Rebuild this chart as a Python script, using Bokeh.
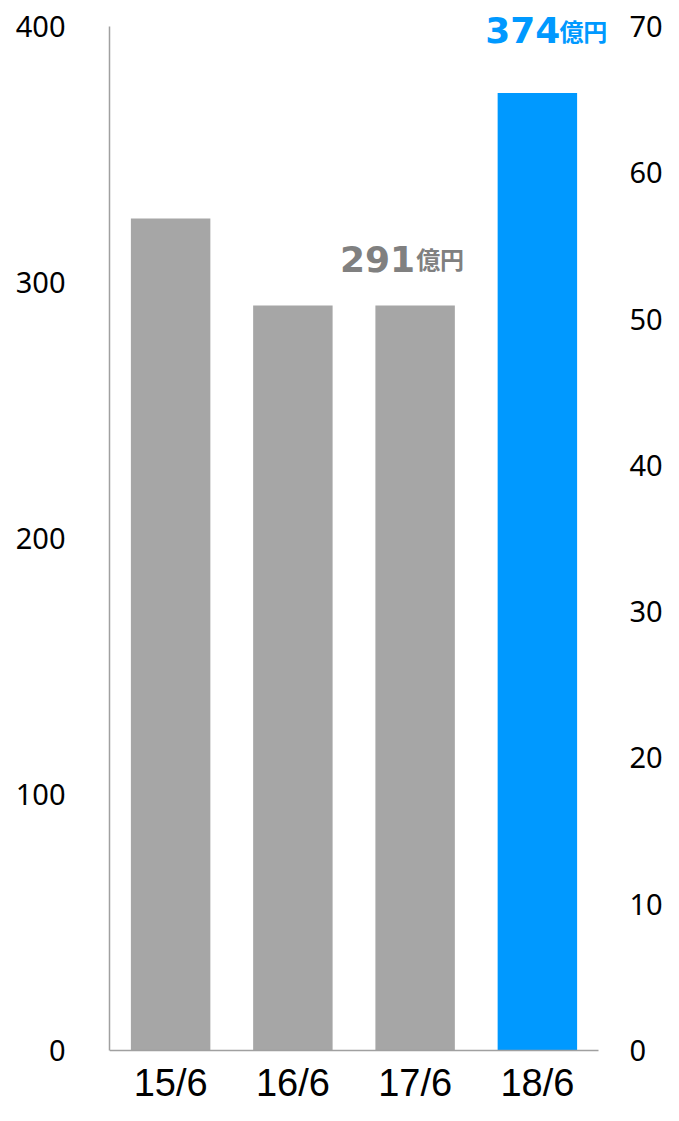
from bokeh.plotting import figure
from bokeh.models import Range1d, LinearAxis, FixedTicker, ColumnDataSource
from bokeh.core.properties import value
from bokeh.embed import file_html
from bokeh.resources import INLINE

# ---- data ----
categories = ["15/6", "16/6", "17/6", "18/6"]
sales = [325, 291, 291, 374]
bar_colors = ["#A6A6A6", "#A6A6A6", "#A6A6A6", "#0099FF"]
left_ticks = [0, 100, 200, 300, 400]
right_ticks = [0, 10, 20, 30, 40, 50, 60, 70]
callout_categories = ["17/6", "18/6"]
callout_values = [291, 374]
callout_numbers = ["291", "374"]
callout_unit = "億円"
callout_colors = ["#808080", "#0099FF"]
left_max = 400
right_max = 70

# ---- layout ----
px_per_cat = 122.25
px_per_unit = 2.56
border_left = 109
border_top = 12
frame_w = 503
frame_h = 1093
below_zero_px = 55          # frame space below the zero line (for x labels)
x_end = frame_w / px_per_cat
y_start = -below_zero_px / px_per_unit
y_end = (frame_h - below_zero_px) / px_per_unit
x_pos = [i + 0.5 for i in range(len(categories))]

p = figure(frame_width=frame_w, frame_height=frame_h,
           x_range=Range1d(0, x_end), y_range=Range1d(y_start, y_end),
           output_backend="svg", toolbar_location=None,
           min_border_left=border_left, min_border_right=0,
           min_border_top=border_top, min_border_bottom=0)
p.outline_line_color = None
p.grid.visible = False
p.background_fill_color = "white"
p.border_fill_color = "white"

axis_grey = "#A0A0A0"

# bottom axis, pinned to the zero line
xa = p.xaxis[0]
xa.fixed_location = 0
xa.ticker = FixedTicker(ticks=x_pos)
xa.major_label_overrides = {x: c for x, c in zip(x_pos, categories)}
xa.bounds = (0, len(categories))
xa.axis_line_color = axis_grey
xa.axis_line_width = 1.5
xa.major_tick_line_color = None
xa.minor_tick_line_color = None
xa.major_tick_out = 0
xa.major_tick_in = 0
xa.major_label_standoff = 11
xa.major_label_text_font = "Liberation Sans"
xa.major_label_text_font_size = "38px"
xa.major_label_text_color = "black"

# left axis
ya = p.yaxis[0]
ya.ticker = FixedTicker(ticks=left_ticks)
ya.bounds = (0, left_max)
ya.axis_line_color = axis_grey
ya.axis_line_width = 1.5
ya.major_tick_line_color = None
ya.minor_tick_line_color = None
ya.major_tick_out = 0
ya.major_tick_in = 0
ya.major_label_standoff = 44
ya.major_label_text_font = "Noto Sans"
ya.major_label_text_font_size = "29px"
ya.major_label_text_color = "black"

# right axis
scale = right_max / left_max
p.extra_y_ranges = {"right": Range1d(y_start * scale, y_end * scale)}
ra = LinearAxis(y_range_name="right", ticker=FixedTicker(ticks=right_ticks))
ra.axis_line_color = None
ra.major_tick_line_color = None
ra.minor_tick_line_color = None
ra.major_tick_out = 0
ra.major_tick_in = 0
ra.major_label_standoff = 17
ra.major_label_text_font = "Noto Sans"
ra.major_label_text_font_size = "29px"
ra.major_label_text_color = "black"
p.add_layout(ra, "right")

# bars
src = ColumnDataSource(dict(x=x_pos, top=sales, color=bar_colors))
p.vbar(x="x", top="top", width=0.65, bottom=0, color="color", line_color=None, source=src)

# callouts: (number x offset, unit x offset, y offset) in pixels
offsets = {"17/6": (0, 1, -47), "18/6": (23, 22, -63)}
for cat, val, num, col in zip(callout_categories, callout_values, callout_numbers, callout_colors):
    xi = x_pos[categories.index(cat)]
    dx_num, dx_unit, dy = offsets[cat]
    p.text(x=[xi], y=[val], text=[num], text_font=value("DejaVu Sans"),
           text_font_style="bold", text_font_size="36px", text_color=col,
           text_align="right", text_baseline="alphabetic",
           x_offset=dx_num, y_offset=dy)
    p.text(x=[xi], y=[val], text=[callout_unit], text_font=value("Noto Sans CJK JP"),
           text_font_style="bold", text_font_size="24px", text_color=col,
           text_align="left", text_baseline="alphabetic",
           x_offset=dx_unit, y_offset=dy)

open("out.html", "w").write(file_html(p, INLINE))
